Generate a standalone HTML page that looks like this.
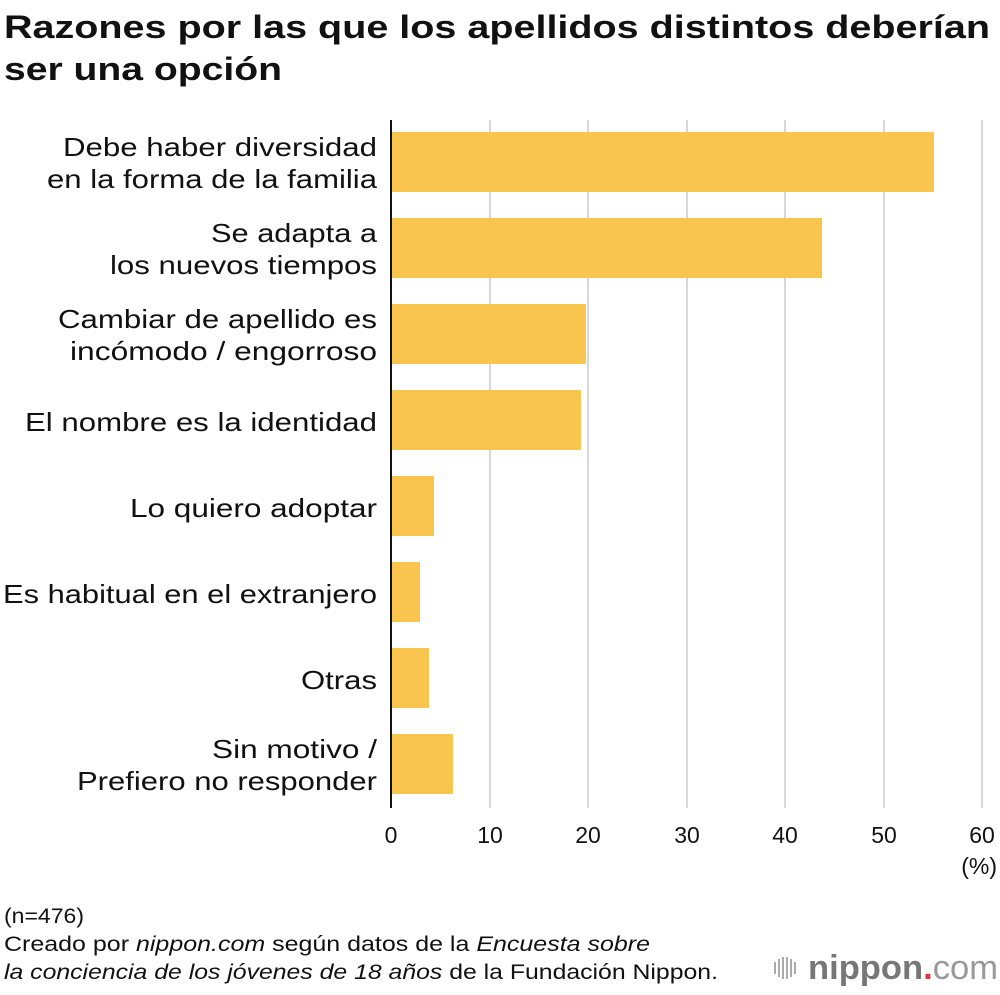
<!DOCTYPE html>
<html><head><meta charset="utf-8"><style>
body{margin:0;background:#fff;}
svg text{font-family:"Liberation Sans",sans-serif;fill:#111;}
</style></head><body>
<svg width="1000" height="990" xmlns="http://www.w3.org/2000/svg">
<text x="4" y="38" font-size="32" font-weight="bold" textLength="986" lengthAdjust="spacingAndGlyphs">Razones por las que los apellidos distintos deberían</text>
<text x="4" y="80" font-size="32" font-weight="bold" textLength="278" lengthAdjust="spacingAndGlyphs">ser una opción</text>
<g stroke="#ccc" stroke-width="1.5">
<line x1="490" y1="120" x2="490" y2="808"/><line x1="588" y1="120" x2="588" y2="808"/>
<line x1="687" y1="120" x2="687" y2="808"/><line x1="785" y1="120" x2="785" y2="808"/>
<line x1="884" y1="120" x2="884" y2="808"/><line x1="982" y1="120" x2="982" y2="808"/>
</g>
<g fill="#f9c54e">
<rect x="391" y="132" width="543" height="60"/>
<rect x="391" y="218" width="431" height="60"/>
<rect x="391" y="304" width="195" height="60"/>
<rect x="391" y="390" width="190" height="60"/>
<rect x="391" y="476" width="43" height="60"/>
<rect x="391" y="562" width="29" height="60"/>
<rect x="391" y="648" width="38" height="60"/>
<rect x="391" y="734" width="62" height="60"/>
</g>
<line x1="391" y1="120" x2="391" y2="808" stroke="#111" stroke-width="2"/>
<g font-size="26" text-anchor="end">
<text x="377" y="156" textLength="314" lengthAdjust="spacingAndGlyphs">Debe haber diversidad</text><text x="377" y="188" textLength="330" lengthAdjust="spacingAndGlyphs">en la forma de la familia</text>
<text x="377" y="242" textLength="166" lengthAdjust="spacingAndGlyphs">Se adapta a</text><text x="377" y="274" textLength="267" lengthAdjust="spacingAndGlyphs">los nuevos tiempos</text>
<text x="377" y="328" textLength="319" lengthAdjust="spacingAndGlyphs">Cambiar de apellido es</text><text x="377" y="360" textLength="307" lengthAdjust="spacingAndGlyphs">incómodo / engorroso</text>
<text x="377" y="431" textLength="352" lengthAdjust="spacingAndGlyphs">El nombre es la identidad</text>
<text x="377" y="517" textLength="247" lengthAdjust="spacingAndGlyphs">Lo quiero adoptar</text>
<text x="377" y="603" textLength="374" lengthAdjust="spacingAndGlyphs">Es habitual en el extranjero</text>
<text x="377" y="689" textLength="76" lengthAdjust="spacingAndGlyphs">Otras</text>
<text x="377" y="758" textLength="165" lengthAdjust="spacingAndGlyphs">Sin motivo /</text><text x="377" y="790" textLength="300" lengthAdjust="spacingAndGlyphs">Prefiero no responder</text>
</g>
<g font-size="23" text-anchor="middle">
<text x="391" y="843">0</text><text x="490" y="843">10</text><text x="588" y="843">20</text>
<text x="687" y="843">30</text><text x="785" y="843">40</text><text x="884" y="843">50</text><text x="982" y="843">60</text>
</g>
<text x="997" y="874" font-size="23" text-anchor="end">(%)</text>
<g font-size="21">
<text x="4" y="923" textLength="80" lengthAdjust="spacingAndGlyphs">(n=476)</text>
<text x="4" y="951" textLength="646" lengthAdjust="spacingAndGlyphs">Creado por <tspan font-style="italic">nippon.com</tspan> según datos de la <tspan font-style="italic">Encuesta sobre</tspan></text>
<text x="4" y="979" textLength="714" lengthAdjust="spacingAndGlyphs"><tspan font-style="italic">la conciencia de los jóvenes de 18 años</tspan> de la Fundación Nippon.</text>
</g>
<g stroke="#aaa" stroke-width="2">
<line x1="775" y1="962" x2="775" y2="974"/><line x1="779" y1="959" x2="779" y2="977"/>
<line x1="783" y1="957" x2="783" y2="979"/><line x1="787" y1="957" x2="787" y2="979"/>
<line x1="791" y1="959" x2="791" y2="977"/><line x1="795" y1="962" x2="795" y2="974"/>
</g>
<text x="808" y="979" font-size="34" font-weight="bold" style="fill:#777" textLength="190" lengthAdjust="spacingAndGlyphs">nippon<tspan style="fill:#e33">.</tspan><tspan font-weight="normal" style="fill:#999">com</tspan></text>
</svg>
</body></html>
